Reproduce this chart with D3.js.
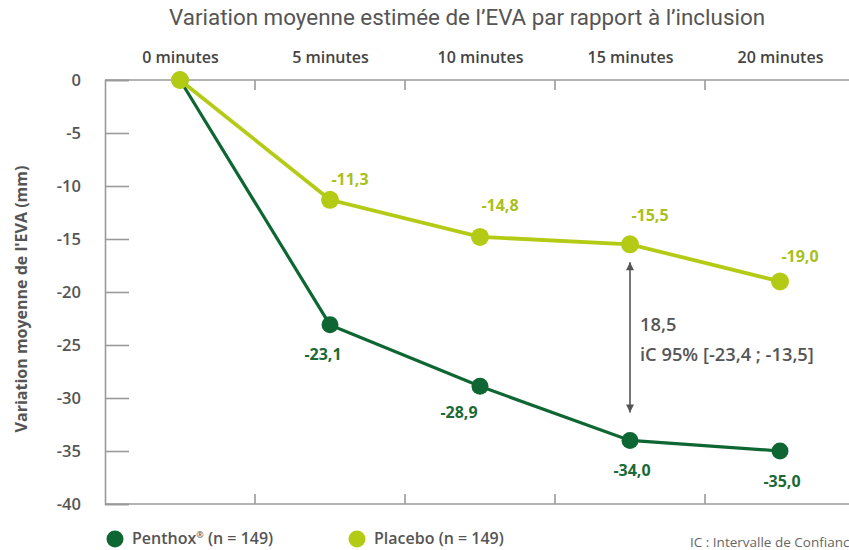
<!DOCTYPE html>
<html><head><meta charset="utf-8">
<script src="https://cdn.jsdelivr.net/npm/d3@7"></script>
<style>
html,body{margin:0;padding:0;background:#fff;overflow:hidden}
svg{display:block;font-family:"Open Sans",Lato,sans-serif}
</style></head>
<body><svg id="c" width="849" height="550"></svg>
<script>
const categories = ["0 minutes","5 minutes","10 minutes","15 minutes","20 minutes"];
const penthox = [0, -23.1, -28.9, -34.0, -35.0];
const placebo = [0, -11.3, -14.8, -15.5, -19.0];
const yTicks = [0,-5,-10,-15,-20,-25,-30,-35,-40];
const penthoxLabelDx = [0, -7, -21, 2, 2];
const penthoxLabelDy = [0, 30, 26, 30, 30];
const placeboLabelDx = [0, 20, 20, 20, 20];
const placeboLabelDy = [0, -20, -31, -29, -25];
const title = "Variation moyenne estimée de l’EVA par rapport à l’inclusion";
const yTitle = "Variation moyenne de l'EVA (mm)";
const diffLabel = "18,5";
const ciLabel = "iC 95% [-23,4 ; -13,5]";
const legendItems = [{name:"Penthox", sup:"®", rest:" (n = 149)", key:"penthox"},{name:"Placebo", sup:"", rest:" (n = 149)", key:"placebo"}];
const footnote = "IC : Intervalle de Confiance";

const colors = {penthox:"#0e6632", placebo:"#b4cb16", placeboText:"#a9bf1c", penthoxText:"#1b6a36"};
const grey = "#555", axisGrey = "#9a9a9a";
const FONT = "'Open Sans', sans-serif";

const svg = d3.select("#c");
const mLeft = 105, mRight = 855, mTop = 80, mBottom = 504;
const xb = d3.scaleBand().domain(categories).range([mLeft, mRight]).padding(0);
const xc = c => xb(c) + xb.bandwidth()/2;
const y = d3.scaleLinear().domain([-40, 0]).range([mBottom, mTop]);
const fmt = v => d3.format(".1f")(v).replace("−","-").replace(".",",");

// title
svg.append("text").attr("x", 467).attr("y", 25).attr("text-anchor","middle")
  .attr("font-size", 22.4).attr("fill", grey).attr("font-weight", 400)
  .attr("font-family","Roboto, sans-serif").text(title);

// y axis
const yAxis = d3.axisLeft(y).tickValues(yTicks).tickSize(-24).tickPadding(24).tickFormat(d => String(d));
const gy = svg.append("g").attr("transform", `translate(${mLeft},0)`).call(yAxis);
gy.select(".domain").attr("stroke", axisGrey).attr("stroke-width", 1.6);
gy.selectAll(".tick line").attr("stroke", axisGrey).attr("stroke-width", 1.6);
gy.selectAll(".tick text").attr("font-size", 16.5).attr("fill", grey).attr("font-weight", 600)
  .attr("font-family", FONT);

// top axis (labels)
const xp = d3.scalePoint().domain(categories).range([xc(categories[0]), xc(categories[categories.length-1])]);
const gx = svg.append("g").attr("transform", `translate(0,${mTop})`)
  .call(d3.axisTop(xp).tickSize(0).tickPadding(17));
gx.select(".domain").remove();
gx.selectAll(".tick text").attr("font-size", 16).attr("fill", "#444").attr("font-weight", 600)
  .attr("font-family", FONT);

// axis lines
svg.append("line").attr("x1", mLeft).attr("x2", 849).attr("y1", mTop).attr("y2", mTop)
  .attr("stroke", axisGrey).attr("stroke-width", 1.6);
svg.append("line").attr("x1", mLeft).attr("x2", 849).attr("y1", mBottom).attr("y2", mBottom)
  .attr("stroke", axisGrey).attr("stroke-width", 1.6);
// band boundary ticks
const bounds = categories.slice(1).map(c => xb(c));
svg.selectAll(".ttick").data(bounds).join("line")
  .attr("x1", d=>d).attr("x2", d=>d).attr("y1", mTop).attr("y2", mTop+10)
  .attr("stroke", axisGrey).attr("stroke-width", 1.6);
svg.selectAll(".btick").data(bounds).join("line")
  .attr("x1", d=>d).attr("x2", d=>d).attr("y1", mBottom).attr("y2", mBottom-10)
  .attr("stroke", axisGrey).attr("stroke-width", 1.6);

// y title
svg.append("text").attr("transform", `translate(27,299) rotate(-90)`).attr("text-anchor","middle")
  .attr("font-size", 16).attr("font-weight", 700).attr("fill", grey)
  .attr("font-family", FONT).text(yTitle);

// arrow
const ax = xc(categories[3]);
const defs = svg.append("defs");
defs.append("marker").attr("id","ah").attr("viewBox","0 0 10 10").attr("refX",10).attr("refY",5)
  .attr("markerWidth",9).attr("markerHeight",8).attr("markerUnits","userSpaceOnUse").attr("orient","auto-start-reverse")
  .append("path").attr("d","M0,0 L10,5 L0,10 Z").attr("fill", grey);
svg.append("line").attr("x1", ax).attr("x2", ax)
  .attr("y1", y(placebo[3]) + 18).attr("y2", y(penthox[3]) - 28)
  .attr("stroke", grey).attr("stroke-width", 1.6)
  .attr("marker-start","url(#ah)").attr("marker-end","url(#ah)");
svg.append("text").attr("x", ax+10).attr("y", 331).attr("font-size", 18.3).attr("font-weight", 600)
  .attr("fill", grey).attr("font-family", FONT).text(diffLabel);
svg.append("text").attr("x", ax+10).attr("y", 361).attr("font-size", 18.3).attr("font-weight", 600)
  .attr("fill", grey).attr("font-family", FONT).text(ciLabel);

// lines
const line = d3.line().x((d,i)=>xc(categories[i])).y(d=>y(d));
svg.append("path").datum(penthox).attr("d", line).attr("fill","none")
  .attr("stroke", colors.penthox).attr("stroke-width", 3.2);
svg.append("path").datum(placebo).attr("d", line).attr("fill","none")
  .attr("stroke", colors.placebo).attr("stroke-width", 3.8);
svg.selectAll(".pp").data(penthox).join("circle")
  .attr("cx",(d,i)=>xc(categories[i])).attr("cy", d=>y(d)).attr("r", 8.5).attr("fill", colors.penthox);
svg.selectAll(".pl").data(placebo).join("circle")
  .attr("cx",(d,i)=>xc(categories[i])).attr("cy", d=>y(d)).attr("r", 9).attr("fill", colors.placebo);

// value labels
svg.selectAll(".plab").data(penthox.slice(1)).join("text")
  .attr("x",(d,i)=>xc(categories[i+1]) + penthoxLabelDx[i+1])
  .attr("y",(d,i)=>y(d) + penthoxLabelDy[i+1] + 5.5)
  .attr("text-anchor","middle").attr("font-size", 16).attr("font-weight", 700)
  .attr("fill", colors.penthoxText).attr("font-family", FONT).text(fmt);
svg.selectAll(".pllab").data(placebo.slice(1)).join("text")
  .attr("x",(d,i)=>xc(categories[i+1]) + placeboLabelDx[i+1])
  .attr("y",(d,i)=>y(d) + placeboLabelDy[i+1] + 5.5)
  .attr("text-anchor","middle").attr("font-size", 16).attr("font-weight", 700)
  .attr("fill", colors.placeboText).attr("font-family", FONT).text(fmt);

// legend
const lx = [115, 357];
const lg = svg.selectAll(".lg").data(legendItems).join("g").attr("transform",(d,i)=>`translate(${lx[i]},539)`);
lg.append("circle").attr("r", 8.5).attr("fill", d=>colors[d.key]);
const lt = lg.append("text").attr("x", 17).attr("y", 5).attr("font-size", 16).attr("font-weight", 600)
  .attr("fill", grey).attr("font-family", FONT);
lt.append("tspan").text(d=>d.name);
lt.append("tspan").attr("font-size", 9).attr("dy", -6).text(d=>d.sup);
lt.append("tspan").attr("dy", d=>d.sup ? 6 : 0).text(d=>d.rest);

svg.append("text").attr("x", 690).attr("y", 547).attr("font-size", 13.5).attr("fill", "#666")
  .attr("font-family", FONT).text(footnote);
</script></body></html>
